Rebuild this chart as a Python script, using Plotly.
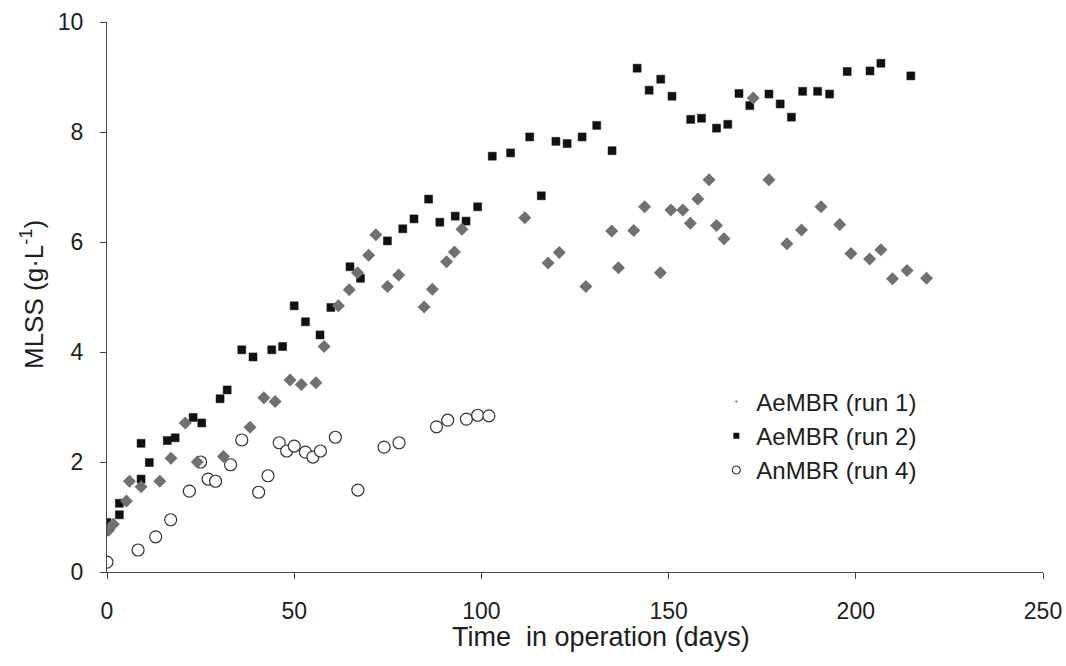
import plotly.graph_objects as go

# AeMBR (run 1) - grey diamonds
run1_days = [0.4, 1.7, 5.2, 6, 9.1, 14.1, 17.1, 20.9, 24.1, 31.1, 38.2, 41.9, 44.9, 48.9, 51.9, 55.8,
             58, 61.8, 64.7, 66.9, 69.9, 71.8, 74.9, 77.9, 84.7, 86.9, 90.7, 92.8, 94.8, 111.6,
             117.8, 120.8, 127.9, 134.8, 136.6, 140.7, 143.6, 147.8, 150.6, 153.8, 155.8, 157.8,
             160.8, 162.8, 164.8, 172.6, 176.8, 181.6, 185.5, 190.7, 195.7, 198.7, 203.7, 206.7,
             209.8, 213.7, 218.9]
run1_mlss = [0.76, 0.87, 1.29, 1.65, 1.55, 1.65, 2.07, 2.71, 2.0, 2.10, 2.63, 3.17, 3.10, 3.49, 3.41, 3.44,
             4.10, 4.84, 5.13, 5.44, 5.76, 6.13, 5.19, 5.40, 4.82, 5.14, 5.64, 5.82, 6.23, 6.44,
             5.62, 5.81, 5.19, 6.20, 5.53, 6.21, 6.64, 5.44, 6.58, 6.58, 6.34, 6.78,
             7.13, 6.30, 6.06, 8.62, 7.13, 5.97, 6.22, 6.64, 6.32, 5.79, 5.69, 5.86,
             5.33, 5.48, 5.34]

# AeMBR (run 2) - black squares
run2_days = [0, 3.3, 3.3, 9.1, 9.1, 11.3, 16.1, 18.2, 23, 25.3, 30.2, 32.1, 36, 39, 44, 46.9, 50, 53,
             56.9, 59.8, 64.9, 67.7, 74.9, 79, 82, 85.9, 88.9, 93, 95.9, 99, 102.9, 107.8, 112.9,
             116, 119.9, 122.9, 126.9, 130.8, 134.9, 141.6, 144.8, 147.9, 150.9, 155.9, 158.8,
             162.8, 165.8, 168.8, 171.7, 176.8, 179.8, 182.8, 185.8, 189.8, 193, 197.7, 203.8,
             206.7, 214.7]
run2_mlss = [0.9, 1.04, 1.25, 2.34, 1.69, 1.99, 2.39, 2.44, 2.81, 2.71, 3.15, 3.31, 4.04, 3.91, 4.04, 4.10,
             4.84, 4.55, 4.31, 4.81, 5.55, 5.34, 6.02, 6.24, 6.42, 6.78, 6.36, 6.47, 6.38, 6.64, 7.56,
             7.62, 7.91, 6.84, 7.83, 7.79, 7.91, 8.12, 7.66, 9.16, 8.76, 8.96, 8.65, 8.23, 8.25,
             8.07, 8.14, 8.70, 8.48, 8.69, 8.51, 8.27, 8.74, 8.74, 8.69, 9.10, 9.11, 9.25, 9.02]

# AnMBR (run 4) - open circles
run4_days = [0, 8.3, 13, 17, 22, 25, 27, 29, 33, 36, 40.5, 43, 46, 48, 50, 53, 55, 57, 61, 67, 74, 78,
             88, 91, 96, 99, 102]
run4_mlss = [0.18, 0.40, 0.64, 0.95, 1.47, 2.0, 1.69, 1.65, 1.95, 2.40, 1.45, 1.75, 2.35, 2.20, 2.29,
             2.18, 2.09, 2.20, 2.45, 1.49, 2.27, 2.35, 2.64, 2.76, 2.78, 2.85, 2.84]

x_ticks = [0, 50, 100, 150, 200, 250]
y_ticks = [0, 2, 4, 6, 8, 10]

FONT = "Liberation Sans, Arial, sans-serif"
TXT = "#1e1e1e"
AX = "#444444"

fig = go.Figure()
fig.add_trace(go.Scatter(
    x=run4_days, y=run4_mlss, mode="markers", name="AnMBR (run 4)", showlegend=False,
    marker=dict(symbol="circle", size=12, color="white", line=dict(color="#333333", width=1.2)),
))
fig.add_trace(go.Scatter(
    x=run2_days, y=run2_mlss, mode="markers", name="AeMBR (run 2)", showlegend=False,
    marker=dict(symbol="square", size=8, color="#111111", line=dict(color="#111111", width=0.5)),
))
fig.add_trace(go.Scatter(
    x=run1_days, y=run1_mlss, mode="markers", name="AeMBR (run 1)", showlegend=False,
    marker=dict(symbol="diamond", size=10, color="#707070", line=dict(width=0)),
))
# legend entries (small markers as in the original legend)
fig.add_trace(go.Scatter(x=[None], y=[None], mode="markers", name="AeMBR (run 1)",
                         marker=dict(symbol="circle", size=2, color="#555555")))
fig.add_trace(go.Scatter(x=[None], y=[None], mode="markers", name="AeMBR (run 2)",
                         marker=dict(symbol="square", size=6, color="#111111")))
fig.add_trace(go.Scatter(x=[None], y=[None], mode="markers", name="AnMBR (run 4)",
                         marker=dict(symbol="circle", size=8, color="white",
                                     line=dict(color="#333333", width=1.2))))

fig.add_annotation(
    text="Time  in operation (days)", xref="paper", yref="paper",
    x=(601 - 107) / 936, y=(572 - 637) / 550, xanchor="center", yanchor="middle",
    showarrow=False, font=dict(family=FONT, size=27, color=TXT),
)
fig.add_annotation(
    text="MLSS (g·L<sup>-1</sup>)", xref="paper", yref="paper", textangle=-90,
    x=(32 - 107) / 936, y=(572 - 295) / 550, xanchor="center", yanchor="middle",
    showarrow=False, font=dict(family=FONT, size=26, color=TXT),
)

fig.update_layout(
    width=1066, height=666,
    margin=dict(l=107, r=23, t=22, b=94, autoexpand=False),
    paper_bgcolor="white", plot_bgcolor="white",
    font=dict(family=FONT, size=23, color=TXT),
    showlegend=True,
    legend=dict(x=0.651, y=0.35, xanchor="left", yanchor="top",
                font=dict(family=FONT, size=24, color=TXT),
                bgcolor="rgba(0,0,0,0)", itemwidth=30, tracegroupgap=0),
    xaxis=dict(range=[0, 250], tickvals=x_ticks, showgrid=False, zeroline=False,
               showline=True, linecolor=AX, linewidth=1.2, automargin=False,
               ticks="outside", ticklen=6, tickcolor=AX, ticklabelstandoff=12),
    yaxis=dict(range=[0, 10], tickvals=y_ticks, showgrid=False, zeroline=False,
               showline=True, linecolor=AX, linewidth=1.2, automargin=False,
               ticks="outside", ticklen=6, tickcolor=AX, ticklabelstandoff=12),
)

fig.write_html("out.html")
